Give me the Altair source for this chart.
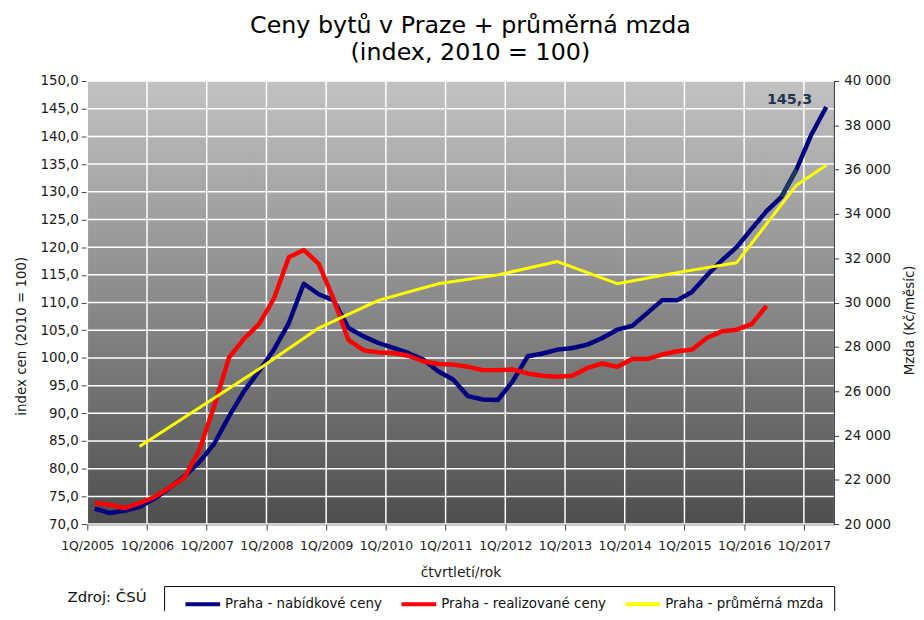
import altair as alt
import pandas as pd

FIRST_YEAR = 2005
N_QUARTERS = 50

# index values per quarter (1Q/2005 ...)
nabidkove = [72.8, 72.0, 72.4, 73.1, 74.6, 76.5, 78.6, 81.2, 84.5, 89.5,
             94.0, 97.6, 101.5, 106.3, 113.4, 111.5, 110.4, 105.4, 103.9, 102.7,
             101.8, 100.9, 99.7, 97.6, 96.1, 93.1, 92.5, 92.4, 95.8, 100.3,
             100.8, 101.5, 101.8, 102.4, 103.6, 105.1, 105.8, 108.1, 110.4, 110.4,
             111.9, 114.9, 117.6, 120.0, 123.3, 126.5, 129.1, 134.0, 140.3, 145.3]
realizovane = [73.8, 73.5, 72.9, 73.8, 74.9, 76.6, 78.4, 83.3, 91.3, 100.1,
               103.5, 106.1, 110.7, 118.2, 119.5, 117.0, 110.6, 103.2, 101.4, 101.0,
               100.9, 100.4, 99.4, 98.9, 98.8, 98.4, 97.8, 97.8, 97.9, 97.2,
               96.8, 96.6, 96.8, 98.2, 99.0, 98.4, 99.8, 99.8, 100.6, 101.2,
               101.5, 103.6, 104.8, 105.1, 106.1, 109.4]
# average wage (Kč/month), quarter index of each point
mzda_quarter = [3, 7, 11, 15, 19, 23, 27, 31, 35, 39, 43, 47, 49]
mzda = [23500, 25250, 27000, 28850, 30100, 30850, 31250, 31850, 30850, 31350, 31800, 35300, 36200]

series_names = ["Praha - nabídkové ceny", "Praha - realizované ceny", "Praha - průměrná mzda"]
series_colors = ["#000080", "#ff0000", "#ffff00"]
x_ticks = list(range(0, 49, 4))
y_ticks = list(range(70, 151, 5))
wage_ticks = list(range(20000, 40001, 2000))

W, H = 753, 447
PAD_L, PAD_T = 80, 71
TOTAL_W, TOTAL_H = 916, 603
FONT = "DejaVu Sans"

idx_df = pd.DataFrame({
    "q": [i + 0.5 for i in range(len(nabidkove))] + [i + 0.5 for i in range(len(realizovane))],
    "v": nabidkove + realizovane,
    "s": [series_names[0]] * len(nabidkove) + [series_names[1]] * len(realizovane),
})
wage_df = pd.DataFrame({"q": [i + 0.5 for i in mzda_quarter], "v": mzda, "s": series_names[2]})
bg_df = pd.DataFrame({"x0": [0], "x1": [N_QUARTERS], "y0": [y_ticks[0]], "y1": [y_ticks[-1]]})
vgrid_df = pd.DataFrame({"q": x_ticks})
hgrid_df = pd.DataFrame({"v": y_ticks})
seg_df = pd.DataFrame({"q": [46.5, 47.5], "v": nabidkove[46:48]})
label_df = pd.DataFrame({"q": [len(nabidkove) - 0.5], "v": [nabidkove[-1]],
                         "t": [f"{nabidkove[-1]:.1f}".replace(".", ",")]})
box_df = pd.DataFrame({"t": ["Zdroj: ČSÚ"]})

x_scale = alt.Scale(domain=[0, N_QUARTERS], nice=False, zero=False)
y_scale = alt.Scale(domain=[y_ticks[0], y_ticks[-1]], nice=False, zero=False)
w_scale = alt.Scale(domain=[wage_ticks[0], wage_ticks[-1]], nice=False, zero=False)
color_scale = alt.Scale(domain=series_names, range=series_colors)

x_axis = alt.Axis(values=x_ticks, labelExpr=f"'1Q/' + ({FIRST_YEAR} + datum.value / 4)",
                  title="čtvrtletí/rok", grid=False, tickSize=6, labelPadding=10,
                  labelFontSize=12.5, titleFontSize=14, titleFontWeight="normal",
                  titleY=53, titleBaseline="alphabetic", labelFlush=False)
y_axis = alt.Axis(values=y_ticks, labelExpr="replace(format(datum.value, '.1f'), '.', ',')",
                  title="index cen (2010 = 100)", grid=False, tickSize=6, labelPadding=3,
                  labelFontSize=13.5, titleFontSize=13.5, titleFontWeight="normal",
                  titleAngle=270, titleX=-66, titleY=257, titleAlign="center",
                  titleBaseline="middle")
w_axis = alt.Axis(orient="right", values=wage_ticks,
                  labelExpr="replace(format(datum.value, ','), ',', ' ')",
                  title="Mzda (Kč/měsíc)", grid=False, tickSize=5, labelPadding=5,
                  labelFontSize=13.5, titleFontSize=13.5, titleFontWeight="normal",
                  titleAngle=270, titleX=76, titleY=241, titleAlign="center",
                  titleBaseline="middle")
legend = alt.Legend(title=None, orient="none", legendX=97, legendY=508, direction="horizontal",
                    columns=3, symbolType="stroke", symbolStrokeWidth=4, symbolSize=1225,
                    labelFontSize=13.5, labelFont=FONT, columnPadding=11, labelOffset=3,
                    labelLimit=400, padding=0, labelColor="#111111")

gradient = alt.Gradient(gradient="linear", x1=0, x2=0, y1=0, y2=1,
                        stops=[alt.GradientStop(color="#c2c2c2", offset=0),
                               alt.GradientStop(color="#8a8a8a", offset=0.5),
                               alt.GradientStop(color="#4e4e4e", offset=1)])

bg = alt.Chart(bg_df).mark_rect(color=gradient).encode(
    x=alt.X("x0:Q", scale=x_scale, axis=x_axis),
    x2="x1",
    y=alt.Y("y0:Q", scale=y_scale, axis=y_axis),
    y2="y1",
)
vgrid = alt.Chart(vgrid_df).mark_rule(color="white", strokeWidth=1.5).encode(
    x=alt.X("q:Q", scale=x_scale, axis=x_axis))
hgrid = alt.Chart(hgrid_df).mark_rule(color="white", strokeWidth=1.5).encode(
    y=alt.Y("v:Q", scale=y_scale, axis=y_axis))
lines = alt.Chart(idx_df).mark_line(strokeWidth=4.5, strokeJoin="round").encode(
    x=alt.X("q:Q", scale=x_scale, axis=x_axis),
    y=alt.Y("v:Q", scale=y_scale, axis=y_axis),
    color=alt.Color("s:N", scale=color_scale, legend=legend),
)
seg = alt.Chart(seg_df).mark_line(strokeWidth=4.5, color="#1d3a5c").encode(
    x=alt.X("q:Q", scale=x_scale, axis=x_axis),
    y=alt.Y("v:Q", scale=y_scale, axis=y_axis),
)
label = alt.Chart(label_df).mark_text(font=FONT, fontSize=14.5, fontWeight="bold",
                                      color="#1f3550", dx=-37, dy=-7).encode(
    x=alt.X("q:Q", scale=x_scale, axis=x_axis),
    y=alt.Y("v:Q", scale=y_scale, axis=y_axis),
    text="t:N",
)
box = alt.Chart(box_df).mark_rect(fill="white", stroke="black", strokeWidth=1).encode(
    x=alt.value(78), x2=alt.value(754), y=alt.value(510), y2=alt.value(560))
source = alt.Chart(box_df).mark_text(font=FONT, fontSize=15, align="left",
                                     baseline="middle", color="#111111").encode(
    x=alt.value(-20), y=alt.value(521), text="t:N")

left = alt.layer(bg, vgrid, hgrid, lines, seg, label, box, source)

wage_line = alt.Chart(wage_df).mark_line(strokeWidth=3, strokeJoin="round").encode(
    x=alt.X("q:Q", scale=x_scale, axis=x_axis),
    y=alt.Y("v:Q", scale=w_scale, axis=w_axis),
    color=alt.Color("s:N", scale=color_scale, legend=legend),
)

chart = alt.layer(left, wage_line).resolve_scale(y="independent").properties(
    width=W, height=H,
    title=alt.TitleParams(text=["Ceny bytů v Praze + průměrná mzda", "(index, 2010 = 100)"],
                          font=FONT, fontSize=24, fontWeight="normal", lineHeight=27,
                          anchor="middle", dx=10, offset=9, color="black"),
    autosize=alt.AutoSizeParams(type="none"),
    padding={"left": PAD_L, "top": PAD_T, "right": TOTAL_W - PAD_L - W,
             "bottom": TOTAL_H - PAD_T - H},
).configure(font=FONT).configure_axis(
    labelFont=FONT, titleFont=FONT, labelColor="#1a1a1a", titleColor="#1a1a1a",
    domainColor="#404040", tickColor="#404040", domainWidth=1.5,
).configure_view(stroke="#a0a0a0", strokeWidth=1)

chart.save("out.html", embed_options={"renderer": "svg", "actions": False})
